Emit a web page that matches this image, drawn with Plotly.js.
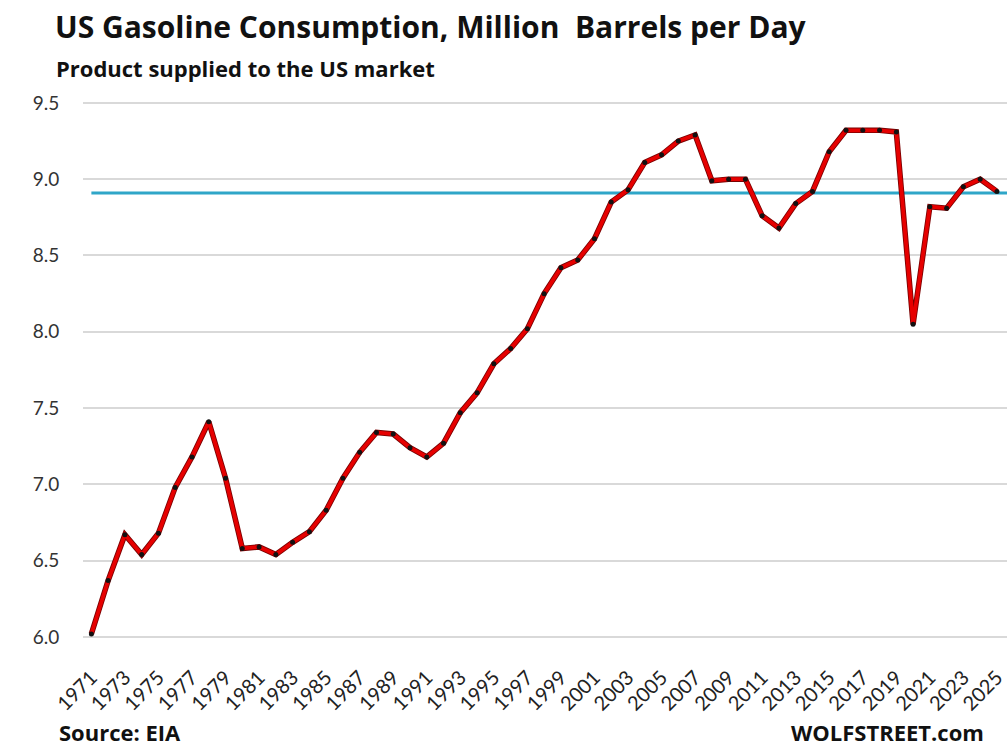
<!DOCTYPE html>
<html>
<head>
<meta charset="utf-8">
<script src="https://cdn.plot.ly/plotly-3.0.1.min.js"></script>
<style>
html,body{margin:0;padding:0;background:#fff;}
#chart{width:1007px;height:749px;}
</style>
</head>
<body>
<div id="chart"></div>
<script>
const years = [1971,1972,1973,1974,1975,1976,1977,1978,1979,1980,
  1981,1982,1983,1984,1985,1986,1987,1988,1989,1990,
  1991,1992,1993,1994,1995,1996,1997,1998,1999,2000,
  2001,2002,2003,2004,2005,2006,2007,2008,2009,2010,
  2011,2012,2013,2014,2015,2016,2017,2018,2019,2020,
  2021,2022,2023,2024,2025];
const consumption = [6.02,6.37,6.67,6.54,6.68,6.98,7.18,7.41,7.04,6.58,
  6.59,6.54,6.62,6.69,6.83,7.04,7.21,7.34,7.33,7.24,
  7.18,7.27,7.47,7.60,7.79,7.89,8.02,8.25,8.42,8.47,
  8.61,8.85,8.93,9.11,9.16,9.25,9.29,8.99,9.00,9.00,
  8.76,8.68,8.84,8.92,9.18,9.32,9.32,9.32,9.31,8.05,
  8.82,8.81,8.95,9.00,8.92];
const refLevel = 8.91;
const yTicks = [6.0,6.5,7.0,7.5,8.0,8.5,9.0,9.5];
const xTicks = years.filter((y,i)=>i%2===0);

const titleText = "US Gasoline Consumption, Million  Barrels per Day";
const subtitleText = "Product supplied to the US market";
const sourceText = "Source: EIA";
const brandText = "WOLFSTREET.com";

const FONT = "'Open Sans', Lato, sans-serif";
const TICKFONT = "Lato, 'Open Sans', sans-serif";

const traces = [
  {
    x: [years[0], years[years.length-1] + 0.7],
    y: [refLevel, refLevel],
    mode: 'lines',
    line: {color: '#2fa6c8', width: 3},
    hoverinfo: 'skip',
    showlegend: false
  },
  {
    x: years,
    y: consumption,
    mode: 'lines',
    line: {color: '#7a0000', width: 5.5},
    hoverinfo: 'skip',
    showlegend: false
  },
  {
    x: years,
    y: consumption,
    mode: 'lines+markers',
    line: {color: '#e60000', width: 3.8},
    marker: {color: '#111', size: 5},
    showlegend: false
  }
];

const layout = {
  width: 1007,
  height: 749,
  paper_bgcolor: '#fff',
  plot_bgcolor: '#fff',
  margin: {l: 83, r: 0, t: 100, b: 109},
  font: {family: FONT, color: '#222'},
  xaxis: {
    range: [1970.5, 2025.6],
    tickmode: 'array',
    tickvals: xTicks,
    ticktext: xTicks.map(String),
    tickangle: -45,
    tickfont: {family: TICKFONT, size: 20, color: '#222'},
    ticklabeloverflow: 'allow',
    showgrid: false,
    zeroline: false,
    showline: false,
    ticks: 'outside',
    ticklen: 17,
    tickcolor: 'rgba(0,0,0,0)',
    fixedrange: true
  },
  yaxis: {
    range: [5.98, 9.519],
    tickmode: 'array',
    tickvals: yTicks,
    ticktext: yTicks.map(v=>v.toFixed(1)),
    tickfont: {family: TICKFONT, size: 19, color: '#333'},
    showgrid: true,
    gridcolor: '#d9d9d9',
    gridwidth: 2,
    zeroline: false,
    showline: false,
    ticks: 'outside',
    ticklen: 19,
    tickcolor: 'rgba(0,0,0,0)',
    fixedrange: true
  },
  title: {
    text: '<b>' + titleText + '</b>',
    x: 55/1007, xref: 'container', xanchor: 'left',
    y: 1 - 27/749, yref: 'container', yanchor: 'middle',
    font: {family: FONT, size: 30, color: '#111'}
  },
  annotations: [
    {
      text: '<b>' + subtitleText + '</b>',
      xref: 'paper', yref: 'paper', x: -0.031, y: 1.06,
      xanchor: 'left', yanchor: 'middle', showarrow: false,
      font: {family: FONT, size: 22, color: '#111'}
    },
    {
      text: '<b>' + sourceText + '</b>',
      xref: 'paper', yref: 'paper', x: -0.028, y: -0.171,
      xanchor: 'left', yanchor: 'middle', showarrow: false,
      font: {family: FONT, size: 22, color: '#111'}
    },
    {
      text: '<b>' + brandText + '</b>',
      xref: 'paper', yref: 'paper', x: 0.977, y: -0.171,
      xanchor: 'right', yanchor: 'middle', showarrow: false,
      font: {family: FONT, size: 22, color: '#111'}
    }
  ]
};

Plotly.newPlot('chart', traces, layout, {displayModeBar: false, staticPlot: true});
</script>
</body>
</html>
